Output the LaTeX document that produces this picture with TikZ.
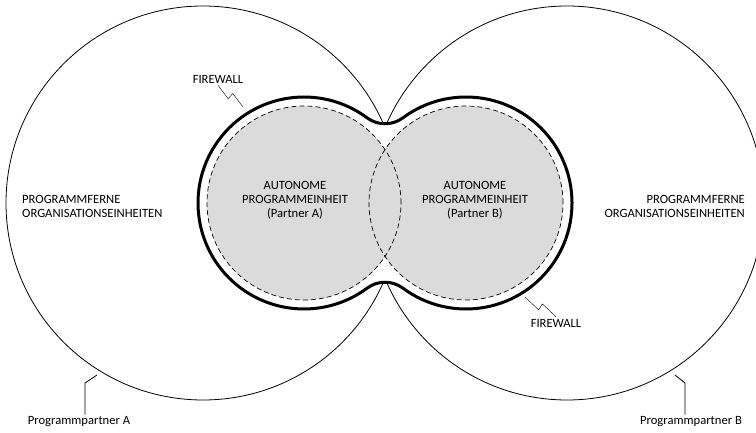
\documentclass[tikz,border=0pt]{standalone}
\usepackage{fontspec}
\setmainfont{Carlito}
\usepackage{tikz}
\usetikzlibrary{calc}

\definecolor{unitgrey}{gray}{0.86}

\begin{document}
\begin{tikzpicture}[x=1pt, y=1pt,
  partner/.style={line width=0.8pt},
  firewall/.style={line width=3pt},
  unitline/.style={line width=0.7pt, dash pattern=on 5pt off 3pt},
  lbl/.style={font=\fontsize{12.6}{14}\selectfont, inner sep=2pt},
  bolt/.style={line width=0.7pt, to path={-- ($(\tikztostart)!.5!(\tikztotarget)!3.5pt!-90:(\tikztotarget)$) -- ($(\tikztostart)!.5!(\tikztotarget)!3.5pt!90:(\tikztotarget)$) -- (\tikztotarget)}}]
\useasboundingbox (0,0) rectangle (756,432);
\coordinate (pa) at (203,229);
\coordinate (pb) at (567,229);
\coordinate (ua) at (304,229);
\coordinate (ub) at (466,229);
% partner circles
\draw[partner] (pa) circle[radius=197];
\draw[partner] (pb) circle[radius=197];
% firewall
\draw[firewall, fill=white] (ua) ++(53.44:106)
  arc[start angle=53.44, end angle=306.56, radius=106]
  arc[start angle=126.56, end angle=53.44, radius=30]
  arc[start angle=233.44, end angle=486.56, radius=106]
  arc[start angle=306.56, end angle=233.44, radius=30] -- cycle;
% autonomous units
\fill[unitgrey] (ua) circle[radius=97] (ub) circle[radius=97];
\draw[unitline] (ua) circle[radius=97];
\draw[unitline] (ub) circle[radius=97];
% labels
\node[lbl, align=left, anchor=west] (outA) at (20,225.5) {PROGRAMMFERNE\\ORGANISATIONSEINHEITEN};
\node[lbl, align=right, anchor=east] (outB) at (747,225.5) {PROGRAMMFERNE\\ORGANISATIONSEINHEITEN};
\node[lbl, align=center] (unitA) at (295,232) {AUTONOME\\PROGRAMMEINHEIT\\(Partner A)};
\node[lbl, align=center] (unitB) at (475,232) {AUTONOME\\PROGRAMMEINHEIT\\(Partner B)};
\node[lbl] (fwA) at (218,353) {FIREWALL};
\node[lbl] (fwB) at (556,109) {FIREWALL};
\node[lbl] (ppA) at (79,10) {Programmpartner A};
\node[lbl] (ppB) at (691,10) {Programmpartner B};
% pointers
\coordinate (fwAend) at (243,325);
\coordinate (fwBend) at (525,135);
\draw (fwA.south) to[bolt] (fwAend);
\draw (fwB.north) to[bolt] (fwBend);
\coordinate (hookA) at (97,57);
\coordinate (hookB) at (675,57);
\draw[partner] (hookA) -- ++(-12,-8) coordinate (kneeA) -- (kneeA |- ppA.north);
\draw[partner] (hookB) -- ++(10,-8) coordinate (kneeB) -- (kneeB |- ppB.north);
\end{tikzpicture}
\end{document}
